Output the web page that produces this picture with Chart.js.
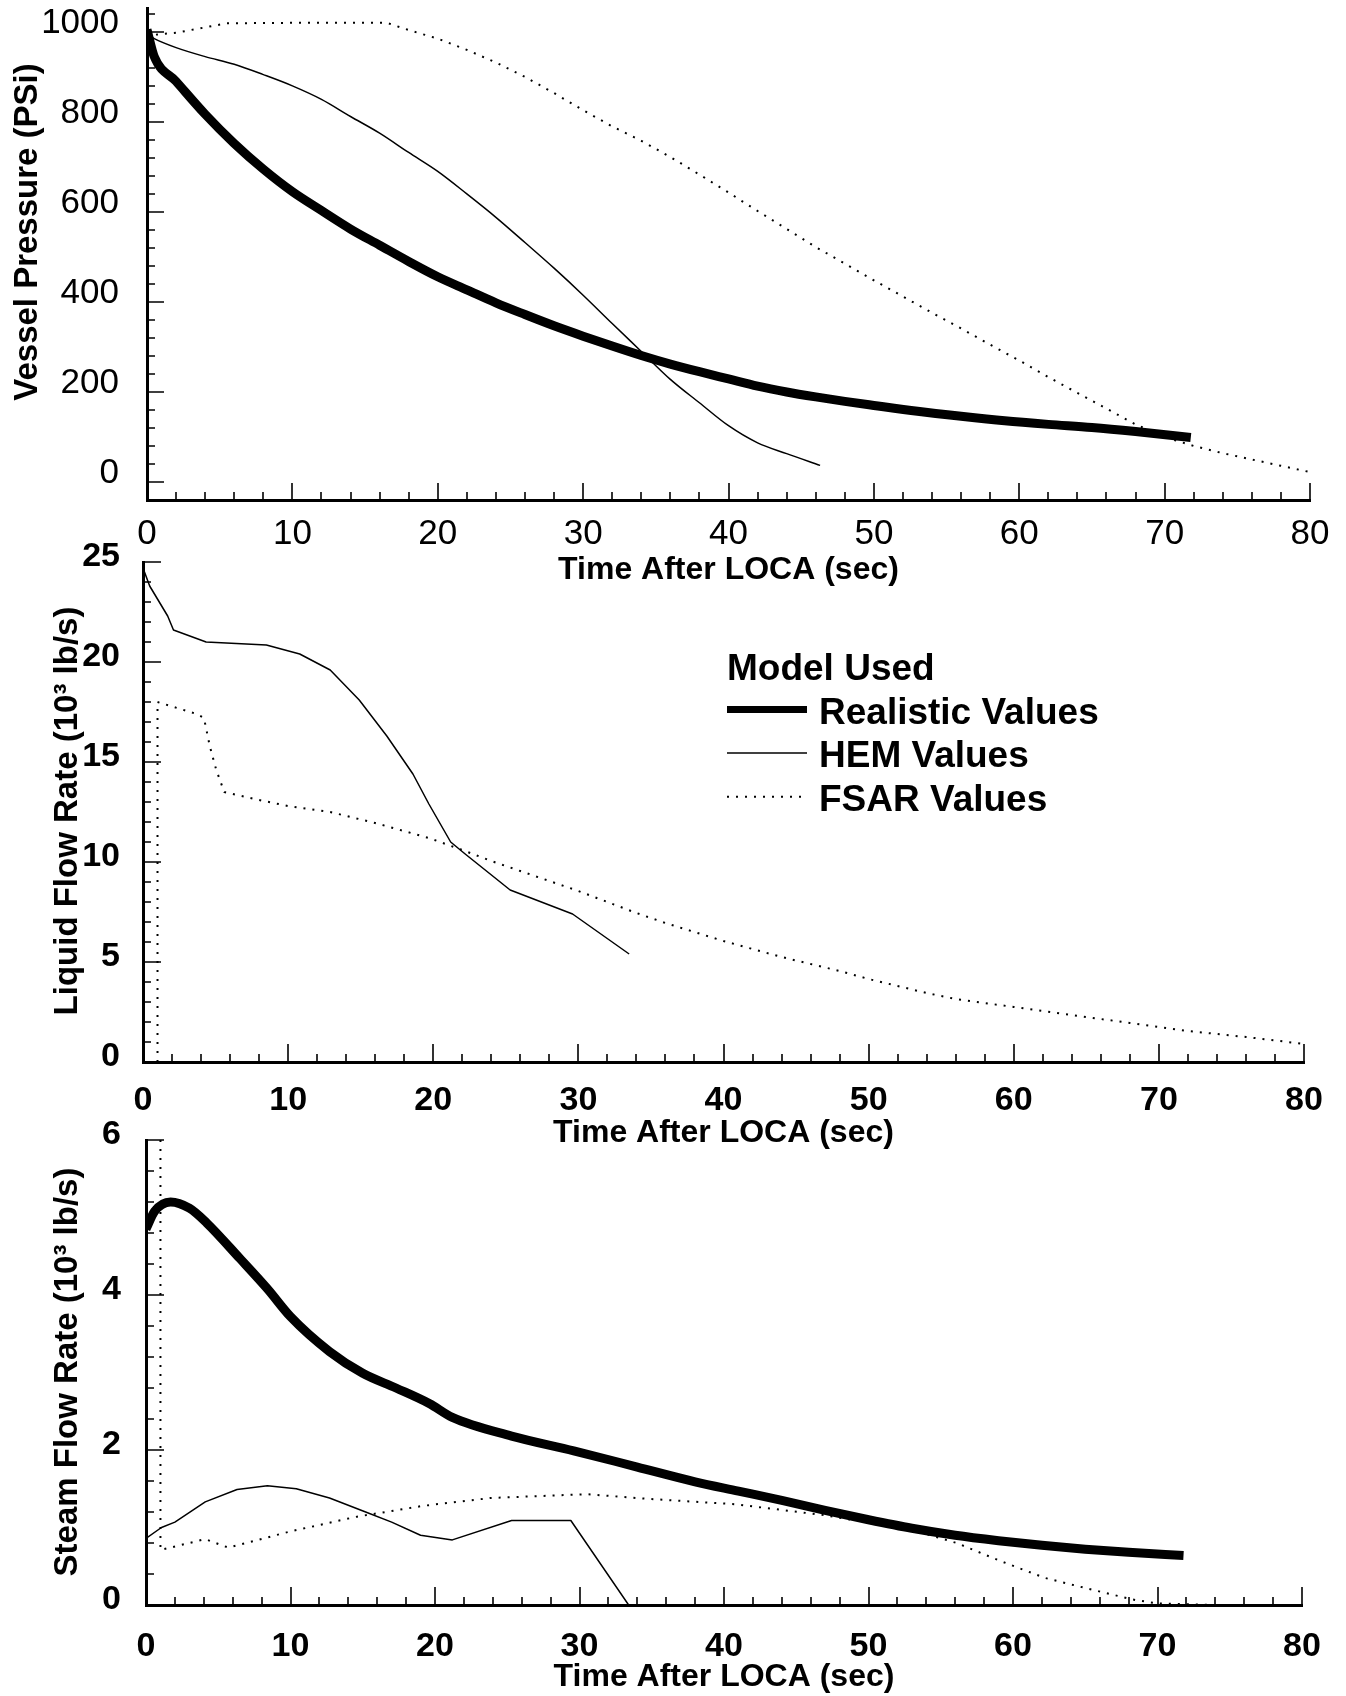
<!DOCTYPE html>
<html>
<head>
<meta charset="utf-8">
<title>LOCA blowdown comparison</title>
<script src="https://cdn.jsdelivr.net/npm/chart.js@4.4.1/dist/chart.umd.min.js"></script>
<style>
  html, body { margin: 0; padding: 0; background: #fff; }
  #page { position: relative; width: 1346px; height: 1696px; background: #fff; overflow: hidden; }
  #page canvas { position: absolute; left: 0; }
</style>
</head>
<body>
<div id="page">
  <canvas id="pressure" width="1346" height="590" style="top:0px"></canvas>
  <canvas id="liquid" width="1346" height="615" style="top:540px"></canvas>
  <canvas id="steam" width="1346" height="586" style="top:1110px"></canvas>
</div>
<script>
// ---- tick labels and titles ----
const timeTicks = [0, 10, 20, 30, 40, 50, 60, 70, 80];
const pressureTicks = [0, 200, 400, 600, 800, 1000];
const liquidTicks = [0, 5, 10, 15, 20, 25];
const steamTicks = [0, 2, 4, 6];
const modelNames = ['Realistic Values', 'HEM Values', 'FSAR Values'];
const timeTitle = 'Time After LOCA (sec)';
const pressureTitle = 'Vessel Pressure (PSi)';
const liquidTitle = 'Liquid Flow Rate (10³ lb/s)';
const steamTitle = 'Steam Flow Rate (10³ lb/s)';

// ---- vessel pressure (psi) vs time after LOCA (s) ----
const pressRealT = [0, 0.5, 2, 4, 6, 8, 10, 12, 14, 16, 18, 20, 22, 24, 26, 28, 30, 32, 34, 36, 38, 40, 42, 44, 46, 48, 50, 53, 56, 59, 62, 65, 68, 71.8];
const pressRealP = [1005, 945, 890, 817, 752, 695, 645, 603, 562, 526, 490, 456, 427, 398, 372, 347, 324, 302, 281, 262, 245, 229, 213, 200, 189, 179, 170, 157, 146, 136, 128, 121, 112, 99];

const pressHemT = [0, 0.5, 2, 4, 6, 8, 10, 12, 14, 16, 18, 20, 22, 24, 26, 28, 30, 32, 34, 36, 38, 40, 42, 44, 46.3];
const pressHemP = [995, 985, 965, 945, 928, 905, 880, 850, 812, 775, 732, 690, 640, 588, 532, 475, 415, 352, 290, 228, 176, 125, 87, 63, 37];

const pressFsarT = [0, 2, 4, 5.5, 10, 16.5, 18, 20, 22, 24, 26, 28, 30, 32, 34, 36, 38, 40, 42, 44, 46, 48, 50, 52, 54, 56, 58, 60, 62, 64, 66, 68, 70, 72, 74, 76, 78, 80];
const pressFsarP = [992, 998, 1010, 1019, 1020, 1020, 1004, 985, 960, 932, 900, 864, 826, 790, 758, 722, 683, 643, 602, 562, 522, 485, 448, 412, 376, 341, 305, 270, 233, 198, 163, 128, 100, 80, 64, 50, 36, 22];

// ---- liquid flow rate (10^3 lb/s) ----
const liqHemT = [0, 0.46, 1.7, 2.1, 4.35, 8.5, 10.8, 12.9, 14.9, 16.8, 18.6, 19.7, 21.2, 22.2, 25.3, 29.6, 33.5];
const liqHemW = [24.7, 23.8, 22.3, 21.6, 21.0, 20.85, 20.4, 19.6, 18.1, 16.3, 14.4, 12.9, 11.0, 10.4, 8.6, 7.4, 5.4];

const liqFsarT = [1.0, 1.0, 3.7, 4.2, 4.6, 5.05, 5.6, 8, 10, 12.9, 16, 19.7, 22, 24, 26, 28, 30, 32, 34, 36, 38, 40, 42, 44, 46, 48, 50, 52, 54, 56, 58, 60, 62, 64, 66, 68, 70, 72, 74, 76, 78, 80];
const liqFsarW = [0, 18.0, 17.4, 17.2, 15.8, 14.6, 13.5, 13.1, 12.8, 12.5, 11.95, 11.2, 10.6, 10.05, 9.55, 9.05, 8.55, 8.0, 7.45, 6.95, 6.5, 6.05, 5.65, 5.25, 4.9, 4.55, 4.15, 3.8, 3.45, 3.15, 2.95, 2.75, 2.55, 2.35, 2.15, 1.95, 1.75, 1.55, 1.4, 1.25, 1.08, 0.9];

// ---- steam flow rate (10^3 lb/s) ----
const steamRealT = [0, 0.6, 1.7, 3, 4.2, 6.5, 8.4, 10, 12.7, 15, 17.3, 19.6, 21.2, 25.3, 29.6, 34, 38, 41, 44, 47, 50, 53, 56, 59, 62, 65, 68, 71.8];
const steamRealW = [4.85, 5.08, 5.2, 5.12, 4.93, 4.47, 4.08, 3.72, 3.27, 2.99, 2.80, 2.60, 2.42, 2.18, 1.99, 1.78, 1.59, 1.47, 1.35, 1.22, 1.10, 0.99, 0.90, 0.83, 0.77, 0.72, 0.68, 0.64];

const steamHemT = [0, 1.07, 2.0, 4.1, 6.3, 8.4, 10.4, 12.7, 15.2, 17.0, 19.0, 21.2, 25.3, 29.4, 33.4];
const steamHemW = [0.86, 1.0, 1.07, 1.33, 1.49, 1.54, 1.50, 1.38, 1.20, 1.07, 0.90, 0.84, 1.09, 1.09, 0];

const steamFsarT = [1.0, 1.0, 4.1, 5.7, 10, 14.6, 19.2, 23.8, 30.5, 34.7, 40.8, 46.9, 53, 56.1, 59.1, 62.2, 65.2, 68.3, 70, 74, 78];
const steamFsarW = [6.0, 0.71, 0.85, 0.74, 0.95, 1.14, 1.28, 1.38, 1.43, 1.37, 1.30, 1.16, 0.97, 0.80, 0.57, 0.35, 0.21, 0.07, 0.02, 0.0, 0.0];

// ---- styling ----
const FONT = '"Liberation Sans", Arial, Helvetica, sans-serif';
Chart.defaults.font.family = FONT;
Chart.defaults.color = '#000';

const lineStyles = [
  { borderWidth: 9, borderDash: [] },     // realistic
  { borderWidth: 1.5, borderDash: [] },   // HEM
  { borderWidth: 2, borderDash: [2, 7] }  // FSAR
];

function series(idx, ts, vs, smooth) {
  return {
    label: modelNames[idx],
    data: ts.map((t, i) => ({ x: t, y: vs[i] })),
    borderColor: '#000',
    backgroundColor: '#000',
    borderWidth: lineStyles[idx].borderWidth,
    borderDash: lineStyles[idx].borderDash,
    borderCapStyle: 'butt',
    borderJoinStyle: 'round',
    pointRadius: 0,
    fill: false,
    tension: 0,
    cubicInterpolationMode: smooth ? 'monotone' : 'default'
  };
}

function isMultiple(v, step) {
  const r = v / step;
  return Math.abs(r - Math.round(r)) < 1e-6;
}

// Major and minor tick marks pointing into the plot from both axes
const inwardTicks = {
  id: 'inwardTicks',
  afterDatasetsDraw(chart, args, o) {
    const { ctx, chartArea: a, scales: { x, y } } = chart;
    ctx.save();
    ctx.strokeStyle = '#000';
    ctx.lineWidth = 1.6;
    ctx.beginPath();
    const nx = Math.round((x.max - x.min) / o.xMinor);
    for (let i = 0; i <= nx; i++) {
      const v = x.min + i * o.xMinor;
      const px = Math.round(x.getPixelForValue(v));
      const len = isMultiple(v, o.xMajor) ? o.major : o.minor;
      ctx.moveTo(px, a.bottom);
      ctx.lineTo(px, a.bottom - len);
    }
    const ny = Math.round((o.yTo - o.yFrom) / o.yMinor);
    for (let i = 0; i <= ny; i++) {
      const v = o.yFrom + i * o.yMinor;
      const py = Math.round(y.getPixelForValue(v));
      const len = isMultiple(v, o.yMajor) ? o.major : o.minor;
      ctx.moveTo(a.left, py);
      ctx.lineTo(a.left + len, py);
    }
    ctx.stroke();
    ctx.restore();
  }
};

// Rotated quantity name beside the vertical axis
const sideTitle = {
  id: 'sideTitle',
  afterDraw(chart, args, o) {
    const { ctx } = chart;
    ctx.save();
    ctx.fillStyle = '#000';
    ctx.font = 'bold ' + o.size + 'px ' + FONT;
    ctx.textAlign = 'center';
    ctx.textBaseline = 'middle';
    ctx.translate(o.cx, o.cy);
    ctx.rotate(-Math.PI / 2);
    ctx.fillText(o.text, 0, 0);
    ctx.restore();
  }
};

// Key of the three models, drawn inside the liquid-flow panel
const modelLegend = {
  id: 'modelLegend',
  afterDraw(chart, args, o) {
    if (!o.title) return;
    const { ctx } = chart;
    ctx.save();
    ctx.fillStyle = '#000';
    ctx.strokeStyle = '#000';
    ctx.font = 'bold ' + o.fontSize + 'px ' + FONT;
    ctx.textBaseline = 'alphabetic';
    ctx.textAlign = 'left';
    ctx.fillText(o.title, o.x, o.titleBaseline);
    modelNames.forEach((name, i) => {
      const base = o.firstBaseline + i * o.rowGap;
      const ly = base - o.lineRise;
      ctx.beginPath();
      ctx.lineWidth = i === 0 ? o.thickSample : lineStyles[i].borderWidth;
      ctx.setLineDash(lineStyles[i].borderDash);
      ctx.moveTo(o.x, ly);
      ctx.lineTo(o.x + o.sampleLen, ly);
      ctx.stroke();
      ctx.setLineDash([]);
      ctx.fillText(name, o.textX, base);
    });
    ctx.restore();
  }
};

function makePanel(canvasId, datasets, p) {
  return new Chart(document.getElementById(canvasId), {
    type: 'line',
    data: { datasets },
    plugins: [inwardTicks, sideTitle, modelLegend],
    options: {
      responsive: false,
      animation: false,
      events: [],
      devicePixelRatio: 1,
      layout: { autoPadding: false, padding: p.padding },
      plugins: {
        legend: { display: false },
        tooltip: { enabled: false },
        inwardTicks: p.marks,
        sideTitle: p.yTitle,
        modelLegend: p.legend || {}
      },
      scales: {
        x: {
          type: 'linear', min: 0, max: 80,
          afterBuildTicks: s => { s.ticks = timeTicks.map(v => ({ value: v })); },
          afterFit: s => { s.height = p.xHeight; s.paddingLeft = 0; s.paddingRight = 0; },
          grid: { display: false, drawTicks: false },
          border: { display: true, width: 3, color: '#000' },
          ticks: { font: p.tickFont, padding: p.xTickPad, maxRotation: 0, autoSkip: false, callback: v => String(v) },
          title: { display: true, text: timeTitle, font: { size: 32, weight: 'bold' }, padding: { top: 0, bottom: p.xTitlePad } }
        },
        y: {
          type: 'linear', min: p.yMin, max: p.yMax,
          afterBuildTicks: s => { s.ticks = p.yTicks.map(v => ({ value: v })); },
          afterFit: s => { s.width = p.yWidth; s.paddingTop = 0; s.paddingBottom = 0; },
          grid: { display: false, drawTicks: false },
          border: { display: true, width: 3, color: '#000' },
          ticks: { font: p.tickFont, padding: p.yTickPad, labelOffset: p.yLabelShift, autoSkip: false, callback: v => String(v) },
          title: { display: false }
        }
      }
    }
  });
}

// Vessel pressure
makePanel('pressure', [
  series(0, pressRealT, pressRealP, true),
  series(1, pressHemT, pressHemP, true),
  series(2, pressFsarT, pressFsarP, false)
], {
  padding: { left: 0, top: 8, right: 36, bottom: 0 },
  yMin: -40, yMax: 1053, yTicks: pressureTicks, yWidth: 147,
  yTitle: { text: pressureTitle, size: 33, cx: 28, cy: 232 },
  yTickPad: 28, yLabelShift: -9,
  xHeight: 90, xTickPad: 13, xTitlePad: 1,
  tickFont: { size: 35, weight: 'normal' },
  marks: { xMinor: 2, xMajor: 10, yFrom: 0, yTo: 1040, yMinor: 40, yMajor: 200, major: 17, minor: 8 }
});

// Liquid flow rate
makePanel('liquid', [
  series(1, liqHemT, liqHemW, false),
  series(2, liqFsarT, liqFsarW, false)
], {
  padding: { left: 0, top: 22, right: 42, bottom: 0 },
  yMin: 0, yMax: 25, yTicks: liquidTicks, yWidth: 143,
  yTitle: { text: liquidTitle, size: 33, cx: 68, cy: 271 },
  yTickPad: 23, yLabelShift: -5,
  xHeight: 93, xTickPad: 18, xTitlePad: 3,
  tickFont: { size: 34, weight: 'bold' },
  marks: { xMinor: 2, xMajor: 10, yFrom: 0, yTo: 25, yMinor: 1, yMajor: 5, major: 18, minor: 8 },
  legend: { title: 'Model Used', x: 727, textX: 819, titleBaseline: 140, firstBaseline: 183.5, rowGap: 43.6, lineRise: 14, sampleLen: 80, thickSample: 7, fontSize: 37 }
});

// Steam flow rate
makePanel('steam', [
  series(0, steamRealT, steamRealW, true),
  series(1, steamHemT, steamHemW, false),
  series(2, steamFsarT, steamFsarW, false)
], {
  padding: { left: 0, top: 30, right: 44, bottom: 0 },
  yMin: 0, yMax: 6, yTicks: steamTicks, yWidth: 146,
  yTitle: { text: steamTitle, size: 33, cx: 68, cy: 262 },
  yTickPad: 25, yLabelShift: -5,
  xHeight: 91, xTickPad: 21, xTitlePad: 0,
  tickFont: { size: 34, weight: 'bold' },
  marks: { xMinor: 2, xMajor: 10, yFrom: 0, yTo: 6, yMinor: 0.4, yMajor: 2, major: 18, minor: 8 }
});
</script>
</body>
</html>
